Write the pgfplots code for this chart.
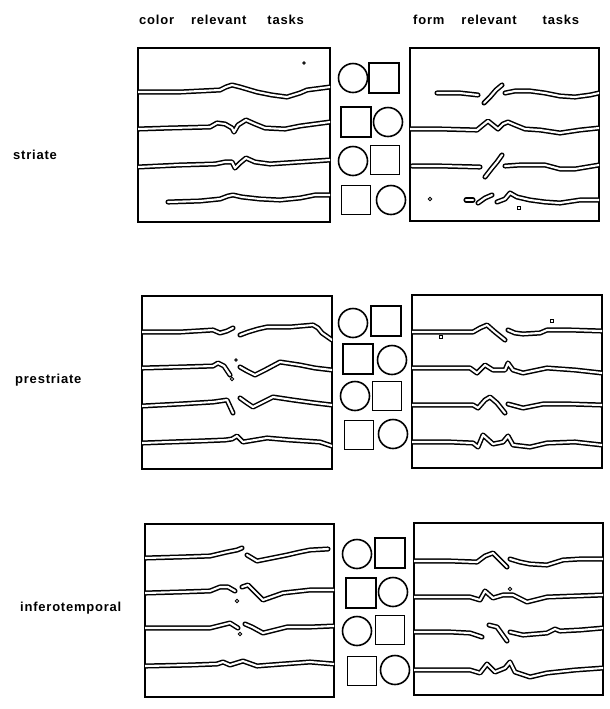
\documentclass[border=0pt]{standalone}
\usepackage{pgfplots}
\pgfplotsset{compat=1.18}
\usepackage{fontspec}
\setmainfont{Liberation Sans}
\newfontfamily\lab[LetterSpace=6]{Liberation Sans}
\pgfplotsset{
  panel/.style={anchor=north west, scale only axis, y dir=reverse,
    xtick=\empty, ytick=\empty, axis line style={line width=1.9pt}, clip=true},
  tr/.style={black, line width=1.5pt, double=white, double distance=2.1pt,
    line join=round, line cap=round, no markers},
  dot/.style={only marks, mark=o, mark size=1.8pt, mark options={line width=0.9pt, black}},
  sq/.style={only marks, mark=square, mark size=1.8pt, mark options={line width=0.9pt, black}},
}
\begin{document}
\begin{tikzpicture}
\useasboundingbox (0,0) rectangle (610pt,-709pt);
\tikzset{lbl/.style={anchor=west, inner sep=0pt, font=\lab\bfseries\fontsize{13}{14}\selectfont}}
\node[lbl] at (139pt,-20pt) {color\hspace{17pt}relevant\hspace{21pt}tasks};
\node[lbl] at (413pt,-20pt) {form\hspace{17pt}relevant\hspace{26pt}tasks};
\node[lbl] at (13pt,-155pt) {striate};
\node[lbl] at (15pt,-380pt) {prestriate};
\node[lbl] at (20pt,-608pt) {inferotemporal};

% ---------- striate, color ----------
\begin{axis}[panel, at={(138pt,-48pt)}, width=192pt, height=174pt,
  xmin=138, xmax=330, ymin=48, ymax=222]
\addplot[tr] coordinates {(138,92)(180,92)(220,90)(226,87)(232,85)(240,87)(257,92)(272,95)(287,97)(300,93)(307,90)(330,87)};
\addplot[tr] coordinates {(138,129)(170,128)(210,127)(217,123)(225,124)(232,128)(234,132)(238,125)(246,120)(255,124)(265,128)(285,129)(300,126)(330,122)};
\addplot[tr] coordinates {(138,167)(180,165)(215,164)(225,162)(232,162)(235,168)(240,163)(246,158)(255,162)(270,164)(300,162)(330,160)};
\addplot[tr] coordinates {(168,202)(200,201)(220,199)(228,196)(233,195)(242,197)(260,199)(280,200)(300,198)(315,195)(330,195)};
\addplot[dot, mark size=1.2pt] coordinates {(304,63)};
\end{axis}

% ---------- striate, form ----------
\begin{axis}[panel, at={(410pt,-48pt)}, width=189pt, height=173pt,
  xmin=410, xmax=599, ymin=48, ymax=221]
\addplot[tr] coordinates {(437,93)(460,93)(478,95)};
\addplot[tr] coordinates {(484,103)(490,97)(496,90)(502,85)};
\addplot[tr] coordinates {(505,93)(515,91)(530,91)(545,93)(560,96)(575,97)(590,95)(599,93)};
\addplot[tr] coordinates {(410,129)(440,129)(477,130)(483,125)(488,121)(493,125)(498,129)(503,124)(508,122)(515,125)(525,129)(540,130)(560,133)(580,130)(599,128)};
\addplot[tr] coordinates {(412,166)(440,166)(480,167)};
\addplot[tr] coordinates {(485,177)(492,168)(497,162)(502,155)};
\addplot[tr] coordinates {(505,166)(520,165)(545,165)(560,169)(575,169)(599,165)};
\addplot[tr] coordinates {(466,200)(473,200)};
\addplot[tr] coordinates {(478,203)(485,198)(492,195)};
\addplot[tr] coordinates {(497,202)(505,199)(510,193)(517,197)(530,200)(545,202)(560,203)(580,200)(599,200)};
\addplot[dot] coordinates {(430,199)};
\addplot[sq] coordinates {(519,208)};
\end{axis}

% ---------- prestriate, color ----------
\begin{axis}[panel, at={(142pt,-296pt)}, width=190pt, height=173pt,
  xmin=142, xmax=332, ymin=296, ymax=469]
\addplot[tr] coordinates {(142,332)(180,332)(213,330)(220,333)(227,331)(233,328)};
\addplot[tr] coordinates {(240,335)(248,332)(258,329)(267,327)(290,327)(313,325)(318,328)(322,333)(332,340)};
\addplot[tr] coordinates {(142,368)(180,367)(213,366)(218,363)(224,366)(230,375)};
\addplot[tr] coordinates {(240,367)(247,371)(255,375)(265,370)(280,362)(300,365)(315,368)(332,370)};
\addplot[tr] coordinates {(142,406)(180,404)(213,402)(227,400)(233,413)};
\addplot[tr] coordinates {(240,398)(247,403)(253,407)(263,402)(273,397)(293,400)(315,403)(332,405)};
\addplot[tr] coordinates {(142,443)(170,442)(200,441)(225,440)(232,439)(237,436)(243,442)(255,440)(267,438)(290,440)(320,442)(332,446)};
\addplot[dot, mark size=1.3pt] coordinates {(236,360)};
\addplot[dot] coordinates {(232,379)};
\end{axis}

% ---------- prestriate, form ----------
\begin{axis}[panel, at={(412pt,-295pt)}, width=190pt, height=173pt,
  xmin=412, xmax=602, ymin=295, ymax=468]
\addplot[tr] coordinates {(412,332)(450,332)(473,332)(480,328)(487,325)(495,332)(505,340)};
\addplot[tr] coordinates {(508,330)(515,333)(523,334)(540,333)(547,330)(570,330)(602,331)};
\addplot[tr] coordinates {(412,368)(450,368)(470,368)(477,373)(485,365)(493,370)(505,370)(508,363)(513,370)(523,373)(547,368)(575,370)(602,373)};
\addplot[tr] coordinates {(412,405)(450,405)(473,405)(478,408)(485,400)(490,397)(497,403)(505,413)};
\addplot[tr] coordinates {(508,404)(523,408)(543,404)(570,404)(602,405)};
\addplot[tr] coordinates {(412,442)(450,442)(473,443)(478,447)(483,435)(493,444)(503,442)(508,436)(513,445)(530,447)(547,443)(575,442)(602,445)};
\addplot[sq] coordinates {(552,321)(441,337)};
\addplot[only marks, mark=ellipse, mark options={black, line width=0.9pt, x radius=3pt, y radius=2pt}] coordinates {(537,422)};
\end{axis}

% ---------- inferotemporal, color ----------
\begin{axis}[panel, at={(145pt,-524pt)}, width=189pt, height=173pt,
  xmin=145, xmax=334, ymin=524, ymax=697]
\addplot[tr] coordinates {(145,558)(180,557)(210,556)(227,552)(237,550)(242,548)};
\addplot[tr] coordinates {(247,555)(257,561)(287,555)(300,552)(310,550)(328,549)};
\addplot[tr] coordinates {(145,593)(180,592)(210,591)(220,587)(228,587)(235,591)};
\addplot[tr] coordinates {(242,587)(248,585)(255,592)(263,600)(283,593)(310,590)(334,590)};
\addplot[tr] coordinates {(145,628)(180,628)(210,628)(222,625)(230,623)(238,628)};
\addplot[tr] coordinates {(245,624)(252,627)(263,633)(287,627)(310,627)(334,626)};
\addplot[tr] coordinates {(145,666)(190,665)(217,664)(223,662)(230,665)(243,661)(257,666)(283,664)(310,662)(334,664)};
\addplot[dot] coordinates {(237,601)(240,634)};
\end{axis}

% ---------- inferotemporal, form ----------
\begin{axis}[panel, at={(414pt,-523pt)}, width=189pt, height=172pt,
  xmin=414, xmax=603, ymin=523, ymax=695]
\addplot[tr] coordinates {(414,561)(450,561)(477,562)(485,556)(493,553)(500,560)(507,567)};
\addplot[tr] coordinates {(510,559)(520,562)(530,564)(547,565)(563,560)(580,559)(603,559)};
\addplot[tr] coordinates {(414,597)(450,597)(470,597)(480,600)(485,591)(493,598)(503,595)(513,595)(527,602)(547,597)(575,596)(603,595)};
\addplot[dot] coordinates {(510,589)};
\addplot[tr] coordinates {(414,632)(450,632)(470,633)(482,637)};
\addplot[tr] coordinates {(489,625)(497,627)(502,634)(507,641)};
\addplot[tr] coordinates {(510,632)(523,635)(547,633)(555,629)(560,631)(580,630)(603,628)};
\addplot[tr] coordinates {(414,670)(450,670)(470,670)(480,673)(487,664)(495,672)(505,668)(510,662)(515,672)(530,677)(547,673)(575,670)(603,668)};
\end{axis}

% ---------- stimulus icons ----------
\begin{axis}[anchor=north west, at={(0pt,0pt)}, scale only axis, width=610pt, height=709pt,
  xmin=0, xmax=610, ymin=0, ymax=709, y dir=reverse, hide axis, clip=false]
\addplot[only marks, mark=o, mark size=14.5pt, mark options={black, line width=1.6pt}]
  coordinates {(353,78)(388,122)(353,161)(391,200)
               (353,323)(392,360)(355,396)(393,434)
               (357,554)(393,592)(357,631)(395,670)};
\addplot[only marks, mark=square, mark size=15pt, mark options={black, line width=2.7pt}]
  coordinates {(384,78)(356,122)(386,321)(358,359)(390,553)(361,593)};
\addplot[only marks, mark=square, mark size=14.5pt, mark options={black, line width=1.6pt}]
  coordinates {(385,160)(356,200)(387,396)(359,435)(390,630)(362,671)};
\end{axis}
\end{tikzpicture}
\end{document}
